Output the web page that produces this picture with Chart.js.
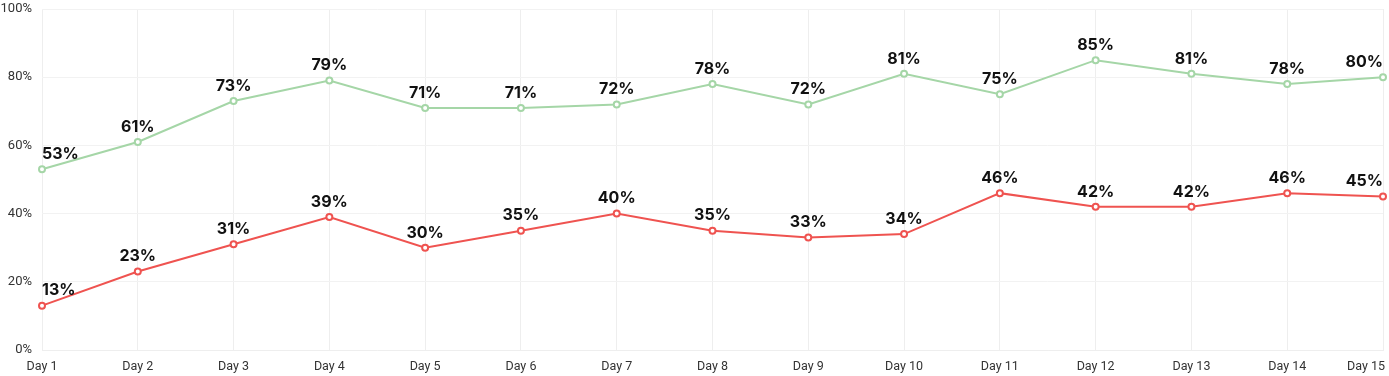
<!DOCTYPE html>
<html>
<head>
<meta charset="utf-8">
<script src="https://cdn.jsdelivr.net/npm/chart.js@4"></script>
<style>
  html, body { margin: 0; padding: 0; background: #fff; }
  #wrap { width: 1389px; height: 376px; position: relative; }
</style>
</head>
<body>
<div id="wrap"><canvas id="lineChart"></canvas></div>
<script>
// data
const days = ['Day 1','Day 2','Day 3','Day 4','Day 5','Day 6','Day 7','Day 8','Day 9','Day 10','Day 11','Day 12','Day 13','Day 14','Day 15'];
const greenValues = [53, 61, 73, 79, 71, 71, 72, 78, 72, 81, 75, 85, 81, 78, 80];
const redValues = [13, 23, 31, 39, 30, 35, 40, 35, 33, 34, 46, 42, 42, 46, 45];

// fits text inside [left, right] around center x
function clampX(x, w, left, right) {
  let s = x - w / 2;
  if (s < left) s = left;
  if (s + w > right) s = right - w;
  return s;
}

// draws the value above each point, plus the day labels under the x axis
const valueLabels = {
  id: 'valueLabels',
  afterDatasetsDraw(chart) {
    const c = chart.ctx;
    const area = chart.chartArea;
    c.save();
    c.textAlign = 'left';
    c.font = 'bold 16px Inter, Roboto, sans-serif';
    c.fillStyle = '#111';
    c.textBaseline = 'bottom';
    chart.data.datasets.forEach((ds, i) => {
      const meta = chart.getDatasetMeta(i);
      meta.data.forEach((pt, j) => {
        const txt = ds.data[j] + '%';
        const w = c.measureText(txt).width;
        c.fillText(txt, clampX(pt.x, w, area.left, area.right), pt.y - 7);
      });
    });

    // x labels, last one pulled inside the canvas
    const xs = chart.scales.x;
    c.font = '12.5px Roboto, sans-serif';
    c.fillStyle = '#333';
    c.textBaseline = 'middle';
    chart.data.labels.forEach((lab, j) => {
      const px = xs.getPixelForTick(j);
      const w = c.measureText(lab).width;
      c.fillText(lab, clampX(px, w, 0, chart.width - 4), area.bottom + 17);
    });
    c.restore();
  }
};

const ctx = document.getElementById('lineChart').getContext('2d');
const myLineChart = new Chart(ctx, {
  type: 'line',
  data: {
    labels: days,
    datasets: [
      {
        label: 'Green',
        data: greenValues,
        borderColor: '#a5d6a7',
        backgroundColor: '#ffffff',
        borderWidth: 2,
        pointRadius: 3,
        pointBorderWidth: 2,
        pointBackgroundColor: '#ffffff',
        tension: 0
      },
      {
        label: 'Red',
        data: redValues,
        borderColor: '#ef5350',
        backgroundColor: '#ffffff',
        borderWidth: 2,
        pointRadius: 3,
        pointBorderWidth: 2,
        pointBackgroundColor: '#ffffff',
        tension: 0
      }
    ]
  },
  options: {
    responsive: true,
    maintainAspectRatio: false,
    animation: false,
    layout: { padding: { top: 9, right: 4, left: 0, bottom: 26 } },
    scales: {
      x: {
        grid: { color: '#eeeeee', drawTicks: false },
        border: { color: '#eeeeee' },
        ticks: { display: false }
      },
      y: {
        min: 0,
        max: 100,
        afterFit(scale) { scale.width = 42; scale.paddingTop = 0; scale.paddingBottom = 0; },
        grid: { color: '#f2f2f2', drawTicks: false },
        border: { display: false },
        ticks: {
          stepSize: 20,
          color: '#333',
          padding: 10,
          font: { size: 13, family: 'Roboto, sans-serif' },
          callback: v => v + '%'
        }
      }
    },
    plugins: {
      legend: { display: false },
      tooltip: { enabled: false }
    }
  },
  plugins: [valueLabels]
});
</script>
</body>
</html>
